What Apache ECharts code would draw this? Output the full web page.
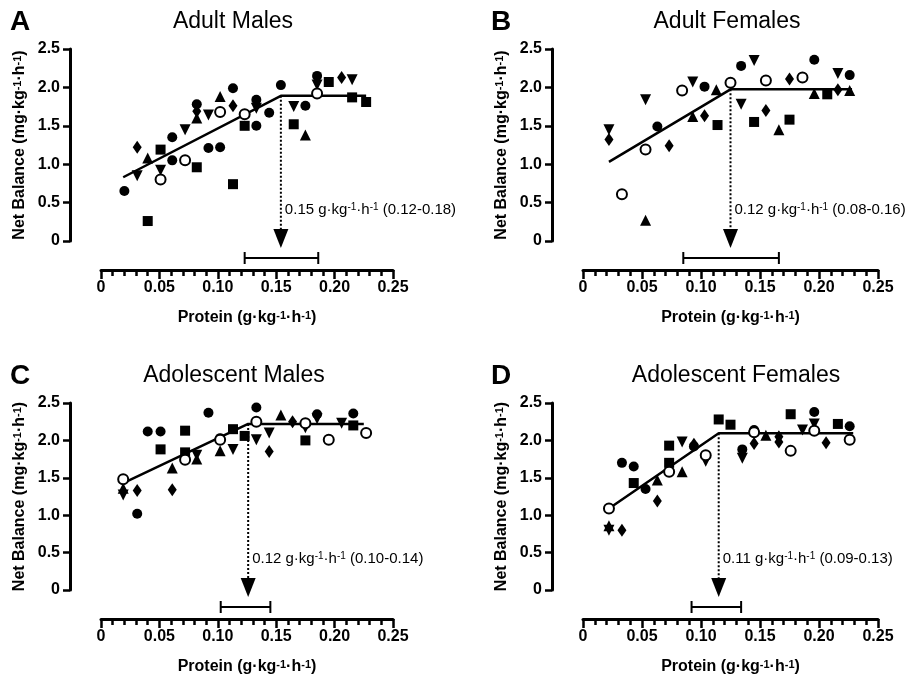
<!DOCTYPE html>
<html>
<head>
<meta charset="utf-8">
<script src="https://cdn.jsdelivr.net/npm/echarts@6/dist/echarts.min.js"></script>
</head>
<body style="margin:0;background:#fff">
<div id="main" style="width:922px;height:679px"></div>
<script>
// panel A - adult males
var aCircle = [[0.020,0.65],[0.061,1.35],[0.061,1.05],[0.082,1.78],[0.092,1.21],[0.102,1.22],[0.113,1.99],[0.133,1.50],[0.133,1.84],[0.144,1.67],[0.154,2.03],[0.175,1.76],[0.185,2.15]];
var aSquare = [[0.040,0.26],[0.051,1.19],[0.082,0.96],[0.113,0.74],[0.123,1.50],[0.165,1.52],[0.195,2.07],[0.215,1.87],[0.227,1.81]];
var aTri = [[0.040,1.08],[0.082,1.60],[0.102,1.88],[0.175,1.38]];
var aInv = [[0.031,0.85],[0.051,0.92],[0.072,1.45],[0.092,1.64],[0.133,1.73],[0.165,1.75],[0.185,2.03],[0.215,2.10]];
var aDiamond = [[0.031,1.22],[0.082,1.69],[0.113,1.76],[0.206,2.13]];
var aOpen = [[0.051,0.80],[0.072,1.05],[0.102,1.68],[0.123,1.65],[0.185,1.92]];
var aFit = [[0.019,0.83],[0.154,1.89],[0.227,1.89]];
var aCI = [0.123, 0.186];

// panel B - adult females
var bCircle = [[0.063,1.49],[0.103,2.01],[0.134,2.28],[0.196,2.36],[0.226,2.16]];
var bSquare = [[0.114,1.51],[0.145,1.55],[0.175,1.58],[0.207,1.91]];
var bTri = [[0.053,0.27],[0.093,1.62],[0.113,1.97],[0.166,1.45],[0.196,1.92],[0.226,1.96]];
var bInv = [[0.022,1.45],[0.053,1.84],[0.093,2.07],[0.134,1.78],[0.145,2.35],[0.216,2.18]];
var bDiamond = [[0.022,1.32],[0.073,1.24],[0.103,1.63],[0.155,1.70],[0.175,2.11],[0.216,1.97]];
var bOpen = [[0.033,0.61],[0.053,1.19],[0.084,1.96],[0.125,2.06],[0.155,2.09],[0.186,2.13]];
var bFit = [[0.022,1.03],[0.125,1.975],[0.228,1.975]];
var bCI = [0.085, 0.166];

// panel C - adolescent males
var cCircle = [[0.031,1.02],[0.040,2.12],[0.051,2.12],[0.092,2.37],[0.102,2.03],[0.133,2.44],[0.185,2.35],[0.216,2.36]];
var cSquare = [[0.051,1.88],[0.072,2.13],[0.072,1.84],[0.113,2.15],[0.123,2.06],[0.175,2.00],[0.216,2.20]];
var cTri = [[0.019,1.36],[0.061,1.63],[0.082,1.75],[0.102,1.86],[0.154,2.34]];
var cInv = [[0.019,1.27],[0.082,1.80],[0.113,1.88],[0.133,2.01],[0.144,2.10],[0.175,2.17],[0.185,2.29],[0.206,2.23]];
var cDiamond = [[0.031,1.33],[0.061,1.34],[0.144,1.85],[0.164,2.25]];
var cOpen = [[0.019,1.48],[0.072,1.74],[0.102,2.01],[0.133,2.25],[0.175,2.23],[0.195,2.01],[0.227,2.10]];
var cFit = [[0.019,1.43],[0.126,2.22],[0.225,2.22]];
var cCI = [0.1025, 0.145];

// panel D - adolescent females
var dCircle = [[0.033,1.70],[0.043,1.65],[0.053,1.35],[0.094,1.92],[0.135,1.88],[0.145,2.14],[0.196,2.38],[0.226,2.19]];
var dSquare = [[0.043,1.43],[0.073,1.93],[0.073,1.70],[0.115,2.28],[0.125,2.21],[0.176,2.35],[0.216,2.22]];
var dTri = [[0.022,0.86],[0.063,1.47],[0.084,1.58],[0.155,2.07]];
var dInv = [[0.022,0.80],[0.084,1.98],[0.104,1.72],[0.135,1.76],[0.186,2.14],[0.196,2.22]];
var dDiamond = [[0.033,0.80],[0.063,1.19],[0.094,1.95],[0.145,1.96],[0.166,2.05],[0.166,1.98],[0.206,1.97]];
var dOpen = [[0.022,1.09],[0.073,1.58],[0.104,1.80],[0.145,2.11],[0.176,1.86],[0.196,2.13],[0.226,2.01]];
var dFit = [[0.022,1.09],[0.115,2.095],[0.229,2.095]];
var dCI = [0.092, 0.134];

var panelLetters = ['A', 'B', 'C', 'D'];
var panelTitles = ['Adult Males', 'Adult Females', 'Adolescent Males', 'Adolescent Females'];
var estimates = ['0.15', '0.12', '0.12', '0.11'];
var ranges = ['(0.12-0.18)', '(0.08-0.16)', '(0.10-0.14)', '(0.09-0.13)'];

var panels = [
    {circle: aCircle, square: aSquare, tri: aTri, inv: aInv, diamond: aDiamond, open: aOpen, fit: aFit, ci: aCI},
    {circle: bCircle, square: bSquare, tri: bTri, inv: bInv, diamond: bDiamond, open: bOpen, fit: bFit, ci: bCI},
    {circle: cCircle, square: cSquare, tri: cTri, inv: cInv, diamond: cDiamond, open: cOpen, fit: cFit, ci: cCI},
    {circle: dCircle, square: dSquare, tri: dTri, inv: dInv, diamond: dDiamond, open: dOpen, fit: dFit, ci: dCI}
];

var font = "'Liberation Sans', Arial, sans-serif";
var grids = [
    {left: 101, top: 49, width: 292, height: 192},
    {left: 583, top: 49, width: 295, height: 192},
    {left: 101, top: 403, width: 292, height: 187},
    {left: 583, top: 403, width: 295, height: 187}
];
var titlePos = [[10, 8, 233, 10], [491, 8, 727, 10], [10, 362, 234, 364], [491, 362, 736, 364]];

var symbols = [
    {key: 'circle', symbol: 'circle', size: 10, rotate: 0, style: {color: '#000', opacity: 1}},
    {key: 'square', symbol: 'rect', size: 10, rotate: 0, style: {color: '#000', opacity: 1}},
    {key: 'tri', symbol: 'triangle', size: 11, rotate: 0, style: {color: '#000', opacity: 1}},
    {key: 'inv', symbol: 'triangle', size: 11, rotate: 180, style: {color: '#000', opacity: 1}},
    {key: 'diamond', symbol: 'diamond', size: [9, 13], rotate: 0, style: {color: '#000', opacity: 1}},
    {key: 'open', symbol: 'circle', size: 10, rotate: 0, style: {color: '#fff', borderColor: '#000', borderWidth: 2, opacity: 1}}
];

var supRich = {
    s: {fontSize: 11, fontWeight: 'bold', fontFamily: font, verticalAlign: 'top', color: '#000'}
};

var option = {
    backgroundColor: '#fff',
    animation: false,
    title: [],
    grid: grids,
    xAxis: [],
    yAxis: [],
    series: []
};

panels.forEach(function (p, i) {
    var tp = titlePos[i];
    option.title.push({
        text: panelLetters[i], left: tp[0], top: tp[1], padding: 0,
        textStyle: {fontSize: 28, fontWeight: 'bold', color: '#000', fontFamily: font}
    });
    option.title.push({
        text: panelTitles[i], left: tp[2], top: tp[3], padding: 0, textAlign: 'center',
        textStyle: {fontSize: 23, fontWeight: 'normal', color: '#000', fontFamily: font}
    });

    option.xAxis.push({
        type: 'value', gridIndex: i, min: 0, max: 0.25, interval: 0.05, offset: 29,
        axisLine: {show: true, onZero: false, lineStyle: {color: '#000', width: 3}},
        axisTick: {show: true, length: 9, lineStyle: {color: '#000', width: 2.5}},
        minorTick: {show: true, splitNumber: 5, length: 6, lineStyle: {color: '#000', width: 2.5}},
        splitLine: {show: false},
        axisLabel: {
            color: '#000', fontSize: 16, fontWeight: 'bold', fontFamily: font, margin: 10,
            formatter: function (v) { return v === 0 ? '0' : v.toFixed(2); }
        },
        name: 'Protein (g·kg{s|-1}·h{s|-1})',
        nameLocation: 'middle', nameGap: 40,
        nameTextStyle: {color: '#000', fontSize: 16, fontWeight: 'bold', fontFamily: font, rich: supRich}
    });
    option.yAxis.push({
        type: 'value', gridIndex: i, min: 0, max: 2.5, interval: 0.5, offset: 31,
        axisLine: {show: true, onZero: false, lineStyle: {color: '#000', width: 3}},
        axisTick: {show: true, length: 7, lineStyle: {color: '#000', width: 2.5}},
        splitLine: {show: false},
        axisLabel: {
            color: '#000', fontSize: 16, fontWeight: 'bold', fontFamily: font, margin: 10,
            formatter: function (v) { return v === 0 ? '0' : v.toFixed(1); }
        },
        name: 'Net Balance (mg·kg{s|-1}·h{s|-1})',
        nameLocation: 'middle', nameGap: 42,
        nameTextStyle: {color: '#000', fontSize: 16, fontWeight: 'bold', fontFamily: font, rich: supRich}
    });

    // two-phase fit line
    option.series.push({
        type: 'line', xAxisIndex: i, yAxisIndex: i, data: p.fit, symbol: 'none', z: 2,
        lineStyle: {color: '#000', width: 2.5}, silent: true
    });

    symbols.forEach(function (s) {
        option.series.push({
            type: 'scatter', name: s.key, xAxisIndex: i, yAxisIndex: i, data: p[s.key],
            symbol: s.symbol, symbolSize: s.size, symbolRotate: s.rotate,
            itemStyle: s.style, z: 3, silent: true
        });
    });

    // breakpoint arrow, confidence interval and label
    var bp = p.fit[1];
    var ci = p.ci;
    var labelText = estimates[i] + ' g·kg{u|-1}·h{u|-1} ' + ranges[i];
    option.series.push({
        type: 'custom', xAxisIndex: i, yAxisIndex: i, clip: false, silent: true, z: 4,
        data: [bp],
        renderItem: function (params, api) {
            var top = api.coord([api.value(0), api.value(1)]);
            var zero = api.coord([api.value(0), 0]);
            var lo = api.coord([ci[0], 0]);
            var hi = api.coord([ci[1], 0]);
            var x = top[0], y0 = zero[1];
            var ciY = y0 + 17;
            return {
                type: 'group',
                children: [
                    {type: 'line', shape: {x1: x, y1: top[1], x2: x, y2: y0 - 11},
                        style: {stroke: '#000', lineWidth: 2, lineDash: [2, 2]}},
                    {type: 'polygon', shape: {points: [[x - 7.5, y0 - 12], [x + 7.5, y0 - 12], [x, y0 + 7]]},
                        style: {fill: '#000'}},
                    {type: 'line', shape: {x1: lo[0], y1: ciY, x2: hi[0], y2: ciY},
                        style: {stroke: '#000', lineWidth: 2}},
                    {type: 'line', shape: {x1: lo[0], y1: ciY - 6, x2: lo[0], y2: ciY + 6},
                        style: {stroke: '#000', lineWidth: 2}},
                    {type: 'line', shape: {x1: hi[0], y1: ciY - 6, x2: hi[0], y2: ciY + 6},
                        style: {stroke: '#000', lineWidth: 2}},
                    {type: 'text', x: x + 4, y: y0 - 31,
                        style: {
                            text: labelText, fill: '#000', fontSize: 15, fontFamily: font,
                            verticalAlign: 'middle', align: 'left',
                            rich: {u: {fontSize: 10, fontFamily: font, verticalAlign: 'top', fill: '#000'}}
                        }}
                ]
            };
        }
    });
});

var chart = echarts.init(document.getElementById('main'), null, {renderer: 'canvas'});
chart.setOption(option);
</script>
</body>
</html>
